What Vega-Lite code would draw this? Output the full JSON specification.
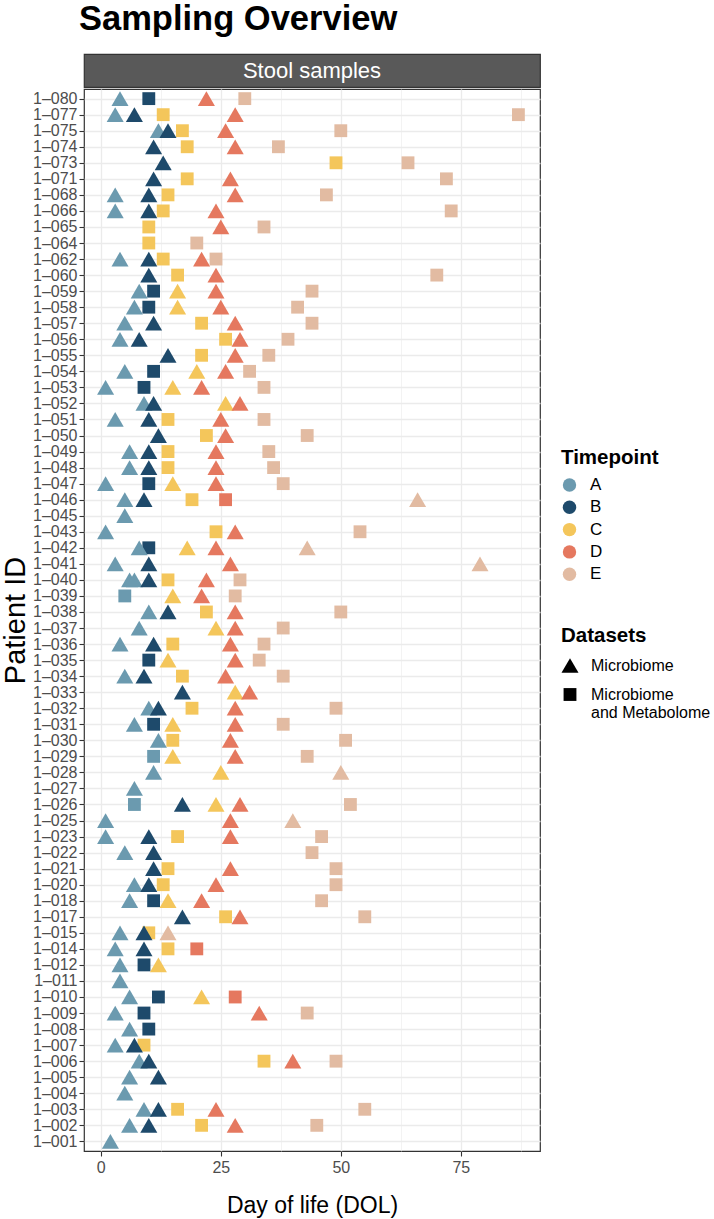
{
  "$schema": "https://vega.github.io/schema/vega-lite/v6.json",
  "background": "white",
  "padding": {"left": 0, "top": 2, "right": 0, "bottom": 0},
  "title": {"text": "Sampling Overview", "anchor": "start", "frame": "group", "fontSize": 34.5, "fontWeight": "bold", "color": "#000000", "offset": 15.5, "dx": -5},
  "spacing": 0,
  "config": {"font": "Liberation Sans", "view": {"stroke": null}},
  "datasets": {
    "samples": [
      {"patient":"1–080","dol":10,"timepoint":"B","dataset":"Microbiome and Metabolome"},
      {"patient":"1–080","dol":30,"timepoint":"E","dataset":"Microbiome and Metabolome"},
      {"patient":"1–080","dol":4,"timepoint":"A","dataset":"Microbiome"},
      {"patient":"1–080","dol":22,"timepoint":"D","dataset":"Microbiome"},
      {"patient":"1–077","dol":13,"timepoint":"C","dataset":"Microbiome and Metabolome"},
      {"patient":"1–077","dol":87,"timepoint":"E","dataset":"Microbiome and Metabolome"},
      {"patient":"1–077","dol":3,"timepoint":"A","dataset":"Microbiome"},
      {"patient":"1–077","dol":7,"timepoint":"B","dataset":"Microbiome"},
      {"patient":"1–077","dol":28,"timepoint":"D","dataset":"Microbiome"},
      {"patient":"1–075","dol":17,"timepoint":"C","dataset":"Microbiome and Metabolome"},
      {"patient":"1–075","dol":50,"timepoint":"E","dataset":"Microbiome and Metabolome"},
      {"patient":"1–075","dol":12,"timepoint":"A","dataset":"Microbiome"},
      {"patient":"1–075","dol":14,"timepoint":"B","dataset":"Microbiome"},
      {"patient":"1–075","dol":26,"timepoint":"D","dataset":"Microbiome"},
      {"patient":"1–074","dol":18,"timepoint":"C","dataset":"Microbiome and Metabolome"},
      {"patient":"1–074","dol":37,"timepoint":"E","dataset":"Microbiome and Metabolome"},
      {"patient":"1–074","dol":11,"timepoint":"B","dataset":"Microbiome"},
      {"patient":"1–074","dol":28,"timepoint":"D","dataset":"Microbiome"},
      {"patient":"1–073","dol":49,"timepoint":"C","dataset":"Microbiome and Metabolome"},
      {"patient":"1–073","dol":64,"timepoint":"E","dataset":"Microbiome and Metabolome"},
      {"patient":"1–073","dol":13,"timepoint":"B","dataset":"Microbiome"},
      {"patient":"1–071","dol":18,"timepoint":"C","dataset":"Microbiome and Metabolome"},
      {"patient":"1–071","dol":72,"timepoint":"E","dataset":"Microbiome and Metabolome"},
      {"patient":"1–071","dol":11,"timepoint":"B","dataset":"Microbiome"},
      {"patient":"1–071","dol":27,"timepoint":"D","dataset":"Microbiome"},
      {"patient":"1–068","dol":14,"timepoint":"C","dataset":"Microbiome and Metabolome"},
      {"patient":"1–068","dol":47,"timepoint":"E","dataset":"Microbiome and Metabolome"},
      {"patient":"1–068","dol":3,"timepoint":"A","dataset":"Microbiome"},
      {"patient":"1–068","dol":10,"timepoint":"B","dataset":"Microbiome"},
      {"patient":"1–068","dol":28,"timepoint":"D","dataset":"Microbiome"},
      {"patient":"1–066","dol":13,"timepoint":"C","dataset":"Microbiome and Metabolome"},
      {"patient":"1–066","dol":73,"timepoint":"E","dataset":"Microbiome and Metabolome"},
      {"patient":"1–066","dol":3,"timepoint":"A","dataset":"Microbiome"},
      {"patient":"1–066","dol":10,"timepoint":"B","dataset":"Microbiome"},
      {"patient":"1–066","dol":24,"timepoint":"D","dataset":"Microbiome"},
      {"patient":"1–065","dol":10,"timepoint":"C","dataset":"Microbiome and Metabolome"},
      {"patient":"1–065","dol":34,"timepoint":"E","dataset":"Microbiome and Metabolome"},
      {"patient":"1–065","dol":25,"timepoint":"D","dataset":"Microbiome"},
      {"patient":"1–064","dol":10,"timepoint":"C","dataset":"Microbiome and Metabolome"},
      {"patient":"1–064","dol":20,"timepoint":"E","dataset":"Microbiome and Metabolome"},
      {"patient":"1–062","dol":13,"timepoint":"C","dataset":"Microbiome and Metabolome"},
      {"patient":"1–062","dol":24,"timepoint":"E","dataset":"Microbiome and Metabolome"},
      {"patient":"1–062","dol":4,"timepoint":"A","dataset":"Microbiome"},
      {"patient":"1–062","dol":10,"timepoint":"B","dataset":"Microbiome"},
      {"patient":"1–062","dol":21,"timepoint":"D","dataset":"Microbiome"},
      {"patient":"1–060","dol":16,"timepoint":"C","dataset":"Microbiome and Metabolome"},
      {"patient":"1–060","dol":70,"timepoint":"E","dataset":"Microbiome and Metabolome"},
      {"patient":"1–060","dol":10,"timepoint":"B","dataset":"Microbiome"},
      {"patient":"1–060","dol":24,"timepoint":"D","dataset":"Microbiome"},
      {"patient":"1–059","dol":11,"timepoint":"B","dataset":"Microbiome and Metabolome"},
      {"patient":"1–059","dol":44,"timepoint":"E","dataset":"Microbiome and Metabolome"},
      {"patient":"1–059","dol":8,"timepoint":"A","dataset":"Microbiome"},
      {"patient":"1–059","dol":16,"timepoint":"C","dataset":"Microbiome"},
      {"patient":"1–059","dol":24,"timepoint":"D","dataset":"Microbiome"},
      {"patient":"1–058","dol":10,"timepoint":"B","dataset":"Microbiome and Metabolome"},
      {"patient":"1–058","dol":41,"timepoint":"E","dataset":"Microbiome and Metabolome"},
      {"patient":"1–058","dol":7,"timepoint":"A","dataset":"Microbiome"},
      {"patient":"1–058","dol":16,"timepoint":"C","dataset":"Microbiome"},
      {"patient":"1–058","dol":25,"timepoint":"D","dataset":"Microbiome"},
      {"patient":"1–057","dol":21,"timepoint":"C","dataset":"Microbiome and Metabolome"},
      {"patient":"1–057","dol":44,"timepoint":"E","dataset":"Microbiome and Metabolome"},
      {"patient":"1–057","dol":5,"timepoint":"A","dataset":"Microbiome"},
      {"patient":"1–057","dol":11,"timepoint":"B","dataset":"Microbiome"},
      {"patient":"1–057","dol":28,"timepoint":"D","dataset":"Microbiome"},
      {"patient":"1–056","dol":26,"timepoint":"C","dataset":"Microbiome and Metabolome"},
      {"patient":"1–056","dol":39,"timepoint":"E","dataset":"Microbiome and Metabolome"},
      {"patient":"1–056","dol":4,"timepoint":"A","dataset":"Microbiome"},
      {"patient":"1–056","dol":8,"timepoint":"B","dataset":"Microbiome"},
      {"patient":"1–056","dol":29,"timepoint":"D","dataset":"Microbiome"},
      {"patient":"1–055","dol":21,"timepoint":"C","dataset":"Microbiome and Metabolome"},
      {"patient":"1–055","dol":35,"timepoint":"E","dataset":"Microbiome and Metabolome"},
      {"patient":"1–055","dol":14,"timepoint":"B","dataset":"Microbiome"},
      {"patient":"1–055","dol":28,"timepoint":"D","dataset":"Microbiome"},
      {"patient":"1–054","dol":11,"timepoint":"B","dataset":"Microbiome and Metabolome"},
      {"patient":"1–054","dol":31,"timepoint":"E","dataset":"Microbiome and Metabolome"},
      {"patient":"1–054","dol":5,"timepoint":"A","dataset":"Microbiome"},
      {"patient":"1–054","dol":20,"timepoint":"C","dataset":"Microbiome"},
      {"patient":"1–054","dol":26,"timepoint":"D","dataset":"Microbiome"},
      {"patient":"1–053","dol":9,"timepoint":"B","dataset":"Microbiome and Metabolome"},
      {"patient":"1–053","dol":34,"timepoint":"E","dataset":"Microbiome and Metabolome"},
      {"patient":"1–053","dol":1,"timepoint":"A","dataset":"Microbiome"},
      {"patient":"1–053","dol":15,"timepoint":"C","dataset":"Microbiome"},
      {"patient":"1–053","dol":21,"timepoint":"D","dataset":"Microbiome"},
      {"patient":"1–052","dol":9,"timepoint":"A","dataset":"Microbiome"},
      {"patient":"1–052","dol":11,"timepoint":"B","dataset":"Microbiome"},
      {"patient":"1–052","dol":26,"timepoint":"C","dataset":"Microbiome"},
      {"patient":"1–052","dol":29,"timepoint":"D","dataset":"Microbiome"},
      {"patient":"1–051","dol":14,"timepoint":"C","dataset":"Microbiome and Metabolome"},
      {"patient":"1–051","dol":34,"timepoint":"E","dataset":"Microbiome and Metabolome"},
      {"patient":"1–051","dol":3,"timepoint":"A","dataset":"Microbiome"},
      {"patient":"1–051","dol":10,"timepoint":"B","dataset":"Microbiome"},
      {"patient":"1–051","dol":25,"timepoint":"D","dataset":"Microbiome"},
      {"patient":"1–050","dol":22,"timepoint":"C","dataset":"Microbiome and Metabolome"},
      {"patient":"1–050","dol":43,"timepoint":"E","dataset":"Microbiome and Metabolome"},
      {"patient":"1–050","dol":12,"timepoint":"B","dataset":"Microbiome"},
      {"patient":"1–050","dol":26,"timepoint":"D","dataset":"Microbiome"},
      {"patient":"1–049","dol":14,"timepoint":"C","dataset":"Microbiome and Metabolome"},
      {"patient":"1–049","dol":35,"timepoint":"E","dataset":"Microbiome and Metabolome"},
      {"patient":"1–049","dol":6,"timepoint":"A","dataset":"Microbiome"},
      {"patient":"1–049","dol":10,"timepoint":"B","dataset":"Microbiome"},
      {"patient":"1–049","dol":24,"timepoint":"D","dataset":"Microbiome"},
      {"patient":"1–048","dol":14,"timepoint":"C","dataset":"Microbiome and Metabolome"},
      {"patient":"1–048","dol":36,"timepoint":"E","dataset":"Microbiome and Metabolome"},
      {"patient":"1–048","dol":6,"timepoint":"A","dataset":"Microbiome"},
      {"patient":"1–048","dol":10,"timepoint":"B","dataset":"Microbiome"},
      {"patient":"1–048","dol":24,"timepoint":"D","dataset":"Microbiome"},
      {"patient":"1–047","dol":10,"timepoint":"B","dataset":"Microbiome and Metabolome"},
      {"patient":"1–047","dol":38,"timepoint":"E","dataset":"Microbiome and Metabolome"},
      {"patient":"1–047","dol":1,"timepoint":"A","dataset":"Microbiome"},
      {"patient":"1–047","dol":15,"timepoint":"C","dataset":"Microbiome"},
      {"patient":"1–047","dol":24,"timepoint":"D","dataset":"Microbiome"},
      {"patient":"1–046","dol":19,"timepoint":"C","dataset":"Microbiome and Metabolome"},
      {"patient":"1–046","dol":26,"timepoint":"D","dataset":"Microbiome and Metabolome"},
      {"patient":"1–046","dol":5,"timepoint":"A","dataset":"Microbiome"},
      {"patient":"1–046","dol":9,"timepoint":"B","dataset":"Microbiome"},
      {"patient":"1–046","dol":66,"timepoint":"E","dataset":"Microbiome"},
      {"patient":"1–045","dol":5,"timepoint":"A","dataset":"Microbiome"},
      {"patient":"1–043","dol":24,"timepoint":"C","dataset":"Microbiome and Metabolome"},
      {"patient":"1–043","dol":54,"timepoint":"E","dataset":"Microbiome and Metabolome"},
      {"patient":"1–043","dol":1,"timepoint":"A","dataset":"Microbiome"},
      {"patient":"1–043","dol":28,"timepoint":"D","dataset":"Microbiome"},
      {"patient":"1–042","dol":10,"timepoint":"B","dataset":"Microbiome and Metabolome"},
      {"patient":"1–042","dol":8,"timepoint":"A","dataset":"Microbiome"},
      {"patient":"1–042","dol":18,"timepoint":"C","dataset":"Microbiome"},
      {"patient":"1–042","dol":24,"timepoint":"D","dataset":"Microbiome"},
      {"patient":"1–042","dol":43,"timepoint":"E","dataset":"Microbiome"},
      {"patient":"1–041","dol":3,"timepoint":"A","dataset":"Microbiome"},
      {"patient":"1–041","dol":10,"timepoint":"B","dataset":"Microbiome"},
      {"patient":"1–041","dol":27,"timepoint":"D","dataset":"Microbiome"},
      {"patient":"1–041","dol":79,"timepoint":"E","dataset":"Microbiome"},
      {"patient":"1–040","dol":14,"timepoint":"C","dataset":"Microbiome and Metabolome"},
      {"patient":"1–040","dol":29,"timepoint":"E","dataset":"Microbiome and Metabolome"},
      {"patient":"1–040","dol":6,"timepoint":"A","dataset":"Microbiome"},
      {"patient":"1–040","dol":7,"timepoint":"A","dataset":"Microbiome"},
      {"patient":"1–040","dol":10,"timepoint":"B","dataset":"Microbiome"},
      {"patient":"1–040","dol":22,"timepoint":"D","dataset":"Microbiome"},
      {"patient":"1–039","dol":5,"timepoint":"A","dataset":"Microbiome and Metabolome"},
      {"patient":"1–039","dol":28,"timepoint":"E","dataset":"Microbiome and Metabolome"},
      {"patient":"1–039","dol":15,"timepoint":"C","dataset":"Microbiome"},
      {"patient":"1–039","dol":21,"timepoint":"D","dataset":"Microbiome"},
      {"patient":"1–038","dol":22,"timepoint":"C","dataset":"Microbiome and Metabolome"},
      {"patient":"1–038","dol":50,"timepoint":"E","dataset":"Microbiome and Metabolome"},
      {"patient":"1–038","dol":10,"timepoint":"A","dataset":"Microbiome"},
      {"patient":"1–038","dol":14,"timepoint":"B","dataset":"Microbiome"},
      {"patient":"1–038","dol":28,"timepoint":"D","dataset":"Microbiome"},
      {"patient":"1–037","dol":38,"timepoint":"E","dataset":"Microbiome and Metabolome"},
      {"patient":"1–037","dol":8,"timepoint":"A","dataset":"Microbiome"},
      {"patient":"1–037","dol":24,"timepoint":"C","dataset":"Microbiome"},
      {"patient":"1–037","dol":28,"timepoint":"D","dataset":"Microbiome"},
      {"patient":"1–036","dol":15,"timepoint":"C","dataset":"Microbiome and Metabolome"},
      {"patient":"1–036","dol":34,"timepoint":"E","dataset":"Microbiome and Metabolome"},
      {"patient":"1–036","dol":4,"timepoint":"A","dataset":"Microbiome"},
      {"patient":"1–036","dol":11,"timepoint":"B","dataset":"Microbiome"},
      {"patient":"1–036","dol":27,"timepoint":"D","dataset":"Microbiome"},
      {"patient":"1–035","dol":10,"timepoint":"B","dataset":"Microbiome and Metabolome"},
      {"patient":"1–035","dol":33,"timepoint":"E","dataset":"Microbiome and Metabolome"},
      {"patient":"1–035","dol":14,"timepoint":"C","dataset":"Microbiome"},
      {"patient":"1–035","dol":28,"timepoint":"D","dataset":"Microbiome"},
      {"patient":"1–034","dol":17,"timepoint":"C","dataset":"Microbiome and Metabolome"},
      {"patient":"1–034","dol":38,"timepoint":"E","dataset":"Microbiome and Metabolome"},
      {"patient":"1–034","dol":5,"timepoint":"A","dataset":"Microbiome"},
      {"patient":"1–034","dol":9,"timepoint":"B","dataset":"Microbiome"},
      {"patient":"1–034","dol":26,"timepoint":"D","dataset":"Microbiome"},
      {"patient":"1–033","dol":17,"timepoint":"B","dataset":"Microbiome"},
      {"patient":"1–033","dol":28,"timepoint":"C","dataset":"Microbiome"},
      {"patient":"1–033","dol":31,"timepoint":"D","dataset":"Microbiome"},
      {"patient":"1–032","dol":19,"timepoint":"C","dataset":"Microbiome and Metabolome"},
      {"patient":"1–032","dol":49,"timepoint":"E","dataset":"Microbiome and Metabolome"},
      {"patient":"1–032","dol":10,"timepoint":"A","dataset":"Microbiome"},
      {"patient":"1–032","dol":12,"timepoint":"B","dataset":"Microbiome"},
      {"patient":"1–032","dol":28,"timepoint":"D","dataset":"Microbiome"},
      {"patient":"1–031","dol":11,"timepoint":"B","dataset":"Microbiome and Metabolome"},
      {"patient":"1–031","dol":38,"timepoint":"E","dataset":"Microbiome and Metabolome"},
      {"patient":"1–031","dol":7,"timepoint":"A","dataset":"Microbiome"},
      {"patient":"1–031","dol":15,"timepoint":"C","dataset":"Microbiome"},
      {"patient":"1–031","dol":28,"timepoint":"D","dataset":"Microbiome"},
      {"patient":"1–030","dol":15,"timepoint":"C","dataset":"Microbiome and Metabolome"},
      {"patient":"1–030","dol":51,"timepoint":"E","dataset":"Microbiome and Metabolome"},
      {"patient":"1–030","dol":12,"timepoint":"A","dataset":"Microbiome"},
      {"patient":"1–030","dol":27,"timepoint":"D","dataset":"Microbiome"},
      {"patient":"1–029","dol":11,"timepoint":"A","dataset":"Microbiome and Metabolome"},
      {"patient":"1–029","dol":43,"timepoint":"E","dataset":"Microbiome and Metabolome"},
      {"patient":"1–029","dol":15,"timepoint":"C","dataset":"Microbiome"},
      {"patient":"1–029","dol":28,"timepoint":"D","dataset":"Microbiome"},
      {"patient":"1–028","dol":11,"timepoint":"A","dataset":"Microbiome"},
      {"patient":"1–028","dol":25,"timepoint":"C","dataset":"Microbiome"},
      {"patient":"1–028","dol":50,"timepoint":"E","dataset":"Microbiome"},
      {"patient":"1–027","dol":7,"timepoint":"A","dataset":"Microbiome"},
      {"patient":"1–026","dol":7,"timepoint":"A","dataset":"Microbiome and Metabolome"},
      {"patient":"1–026","dol":52,"timepoint":"E","dataset":"Microbiome and Metabolome"},
      {"patient":"1–026","dol":17,"timepoint":"B","dataset":"Microbiome"},
      {"patient":"1–026","dol":24,"timepoint":"C","dataset":"Microbiome"},
      {"patient":"1–026","dol":29,"timepoint":"D","dataset":"Microbiome"},
      {"patient":"1–025","dol":1,"timepoint":"A","dataset":"Microbiome"},
      {"patient":"1–025","dol":27,"timepoint":"D","dataset":"Microbiome"},
      {"patient":"1–025","dol":40,"timepoint":"E","dataset":"Microbiome"},
      {"patient":"1–023","dol":16,"timepoint":"C","dataset":"Microbiome and Metabolome"},
      {"patient":"1–023","dol":46,"timepoint":"E","dataset":"Microbiome and Metabolome"},
      {"patient":"1–023","dol":1,"timepoint":"A","dataset":"Microbiome"},
      {"patient":"1–023","dol":10,"timepoint":"B","dataset":"Microbiome"},
      {"patient":"1–023","dol":27,"timepoint":"D","dataset":"Microbiome"},
      {"patient":"1–022","dol":44,"timepoint":"E","dataset":"Microbiome and Metabolome"},
      {"patient":"1–022","dol":5,"timepoint":"A","dataset":"Microbiome"},
      {"patient":"1–022","dol":11,"timepoint":"B","dataset":"Microbiome"},
      {"patient":"1–021","dol":14,"timepoint":"C","dataset":"Microbiome and Metabolome"},
      {"patient":"1–021","dol":49,"timepoint":"E","dataset":"Microbiome and Metabolome"},
      {"patient":"1–021","dol":11,"timepoint":"B","dataset":"Microbiome"},
      {"patient":"1–021","dol":27,"timepoint":"D","dataset":"Microbiome"},
      {"patient":"1–020","dol":13,"timepoint":"C","dataset":"Microbiome and Metabolome"},
      {"patient":"1–020","dol":49,"timepoint":"E","dataset":"Microbiome and Metabolome"},
      {"patient":"1–020","dol":7,"timepoint":"A","dataset":"Microbiome"},
      {"patient":"1–020","dol":10,"timepoint":"B","dataset":"Microbiome"},
      {"patient":"1–020","dol":24,"timepoint":"D","dataset":"Microbiome"},
      {"patient":"1–018","dol":11,"timepoint":"B","dataset":"Microbiome and Metabolome"},
      {"patient":"1–018","dol":46,"timepoint":"E","dataset":"Microbiome and Metabolome"},
      {"patient":"1–018","dol":6,"timepoint":"A","dataset":"Microbiome"},
      {"patient":"1–018","dol":14,"timepoint":"C","dataset":"Microbiome"},
      {"patient":"1–018","dol":21,"timepoint":"D","dataset":"Microbiome"},
      {"patient":"1–017","dol":26,"timepoint":"C","dataset":"Microbiome and Metabolome"},
      {"patient":"1–017","dol":55,"timepoint":"E","dataset":"Microbiome and Metabolome"},
      {"patient":"1–017","dol":17,"timepoint":"B","dataset":"Microbiome"},
      {"patient":"1–017","dol":29,"timepoint":"D","dataset":"Microbiome"},
      {"patient":"1–015","dol":10,"timepoint":"C","dataset":"Microbiome and Metabolome"},
      {"patient":"1–015","dol":4,"timepoint":"A","dataset":"Microbiome"},
      {"patient":"1–015","dol":9,"timepoint":"B","dataset":"Microbiome"},
      {"patient":"1–015","dol":14,"timepoint":"E","dataset":"Microbiome"},
      {"patient":"1–014","dol":14,"timepoint":"C","dataset":"Microbiome and Metabolome"},
      {"patient":"1–014","dol":20,"timepoint":"D","dataset":"Microbiome and Metabolome"},
      {"patient":"1–014","dol":3,"timepoint":"A","dataset":"Microbiome"},
      {"patient":"1–014","dol":9,"timepoint":"B","dataset":"Microbiome"},
      {"patient":"1–012","dol":9,"timepoint":"B","dataset":"Microbiome and Metabolome"},
      {"patient":"1–012","dol":4,"timepoint":"A","dataset":"Microbiome"},
      {"patient":"1–012","dol":12,"timepoint":"C","dataset":"Microbiome"},
      {"patient":"1–011","dol":4,"timepoint":"A","dataset":"Microbiome"},
      {"patient":"1–010","dol":12,"timepoint":"B","dataset":"Microbiome and Metabolome"},
      {"patient":"1–010","dol":28,"timepoint":"D","dataset":"Microbiome and Metabolome"},
      {"patient":"1–010","dol":6,"timepoint":"A","dataset":"Microbiome"},
      {"patient":"1–010","dol":21,"timepoint":"C","dataset":"Microbiome"},
      {"patient":"1–009","dol":9,"timepoint":"B","dataset":"Microbiome and Metabolome"},
      {"patient":"1–009","dol":43,"timepoint":"E","dataset":"Microbiome and Metabolome"},
      {"patient":"1–009","dol":3,"timepoint":"A","dataset":"Microbiome"},
      {"patient":"1–009","dol":33,"timepoint":"D","dataset":"Microbiome"},
      {"patient":"1–008","dol":10,"timepoint":"B","dataset":"Microbiome and Metabolome"},
      {"patient":"1–008","dol":6,"timepoint":"A","dataset":"Microbiome"},
      {"patient":"1–007","dol":9,"timepoint":"C","dataset":"Microbiome and Metabolome"},
      {"patient":"1–007","dol":3,"timepoint":"A","dataset":"Microbiome"},
      {"patient":"1–007","dol":7,"timepoint":"B","dataset":"Microbiome"},
      {"patient":"1–006","dol":34,"timepoint":"C","dataset":"Microbiome and Metabolome"},
      {"patient":"1–006","dol":49,"timepoint":"E","dataset":"Microbiome and Metabolome"},
      {"patient":"1–006","dol":8,"timepoint":"A","dataset":"Microbiome"},
      {"patient":"1–006","dol":10,"timepoint":"B","dataset":"Microbiome"},
      {"patient":"1–006","dol":40,"timepoint":"D","dataset":"Microbiome"},
      {"patient":"1–005","dol":6,"timepoint":"A","dataset":"Microbiome"},
      {"patient":"1–005","dol":12,"timepoint":"B","dataset":"Microbiome"},
      {"patient":"1–004","dol":5,"timepoint":"A","dataset":"Microbiome"},
      {"patient":"1–003","dol":16,"timepoint":"C","dataset":"Microbiome and Metabolome"},
      {"patient":"1–003","dol":55,"timepoint":"E","dataset":"Microbiome and Metabolome"},
      {"patient":"1–003","dol":9,"timepoint":"A","dataset":"Microbiome"},
      {"patient":"1–003","dol":12,"timepoint":"B","dataset":"Microbiome"},
      {"patient":"1–003","dol":24,"timepoint":"D","dataset":"Microbiome"},
      {"patient":"1–002","dol":21,"timepoint":"C","dataset":"Microbiome and Metabolome"},
      {"patient":"1–002","dol":45,"timepoint":"E","dataset":"Microbiome and Metabolome"},
      {"patient":"1–002","dol":6,"timepoint":"A","dataset":"Microbiome"},
      {"patient":"1–002","dol":10,"timepoint":"B","dataset":"Microbiome"},
      {"patient":"1–002","dol":28,"timepoint":"D","dataset":"Microbiome"},
      {"patient":"1–001","dol":2,"timepoint":"A","dataset":"Microbiome"}
    ]
  },
  "vconcat": [
    {
      "width": 456,
      "height": 33,
      "view": {"fill": "#595959", "stroke": "#333333", "strokeWidth": 1.2},
      "data": {"values": [{"panel": "Stool samples"}]},
      "mark": {"type": "text", "color": "#FFFFFF", "fontSize": 22, "align": "center", "baseline": "middle"},
      "encoding": {"text": {"field": "panel", "type": "nominal"}}
    },
    {
      "width": 456,
      "height": 1062,
      "view": {"stroke": "#333333", "strokeWidth": 1.2},
      "data": {"name": "samples"},
      "mark": {"type": "point", "filled": true, "opacity": 1, "strokeWidth": 0},
      "encoding": {
        "x": {
          "field": "dol", "type": "quantitative",
          "scale": {"domain": [-3.5, 91.5], "nice": false, "zero": false},
          "axis": {
            "title": "Day of life (DOL)",
            "values": [0, 12.5, 25, 37.5, 50, 62.5, 75, 87.5],
            "labelExpr": "datum.value % 25 === 0 ? datum.label : ''",
            "tickOpacity": {"condition": {"test": "datum.value % 25 === 0", "value": 1}, "value": 0},
            "gridWidth": {"condition": {"test": "datum.value % 25 === 0", "value": 1.3}, "value": 0.6},
            "gridColor": "#EBEBEB",
            "tickColor": "#333333", "tickSize": 5, "tickWidth": 1.1,
            "labelFontSize": 16, "labelColor": "#4D4D4D", "labelPadding": 3, "labelFlush": false,
            "domain": false,
            "titleFontSize": 23, "titleFontWeight": "normal", "titleColor": "#000000", "titlePadding": 19
          }
        },
        "y": {
          "field": "patient", "type": "nominal", "sort": "descending",
          "scale": {"type": "point", "padding": 0.6},
          "axis": {
            "title": "Patient ID",
            "titleFontSize": 29, "titleFontWeight": "normal", "titleColor": "#000000", "titlePadding": 2,
            "labelFontSize": 16, "labelColor": "#4D4D4D", "labelPadding": 2,
            "tickSize": 5, "tickColor": "#333333", "tickWidth": 1.1,
            "grid": true, "gridColor": "#EBEBEB", "gridWidth": 1.3,
            "domain": false
          }
        },
        "color": {
          "field": "timepoint", "type": "nominal",
          "scale": {"domain": ["A", "B", "C", "D", "E"], "range": ["#6B9AAF", "#1E4A6B", "#F4C65B", "#E5785F", "#E2BBA2"]},
          "legend": {
            "title": "Timepoint", "orient": "none", "legendX": 477, "legendY": 394,
            "symbolType": "circle", "symbolSize": 180, "symbolStrokeWidth": 0,
            "titleFontSize": 20.5, "titleFontWeight": "bold", "titleColor": "#000000", "titlePadding": 8,
            "labelFontSize": 17, "labelColor": "#000000", "labelOffset": 12, "rowPadding": 4.3
          }
        },
        "shape": {
          "field": "dataset", "type": "nominal",
          "scale": {"domain": ["Microbiome", "Microbiome and Metabolome"], "range": ["triangle-up", "square"]},
          "legend": {
            "title": "Datasets", "orient": "none", "legendX": 477, "legendY": 572,
            "symbolFillColor": "#000000", "symbolStrokeWidth": 0,
            "titleFontSize": 20.5, "titleFontWeight": "bold", "titleColor": "#000000", "titlePadding": 10,
            "labelFontSize": 16, "labelColor": "#000000", "labelOffset": 12, "rowPadding": 13,
            "labelExpr": "datum.label == 'Microbiome and Metabolome' ? ['Microbiome', 'and Metabolome'] : datum.label"
          }
        },
        "size": {
          "field": "dataset", "type": "nominal",
          "scale": {"domain": ["Microbiome", "Microbiome and Metabolome"], "range": [290, 165]},
          "legend": {
            "title": "Datasets", "orient": "none", "legendX": 477, "legendY": 572,
            "symbolFillColor": "#000000", "symbolStrokeWidth": 0,
            "titleFontSize": 20.5, "titleFontWeight": "bold", "titleColor": "#000000", "titlePadding": 10,
            "labelFontSize": 16, "labelColor": "#000000", "labelOffset": 12, "rowPadding": 13,
            "labelExpr": "datum.label == 'Microbiome and Metabolome' ? ['Microbiome', 'and Metabolome'] : datum.label"
          }
        }
      }
    }
  ]
}
